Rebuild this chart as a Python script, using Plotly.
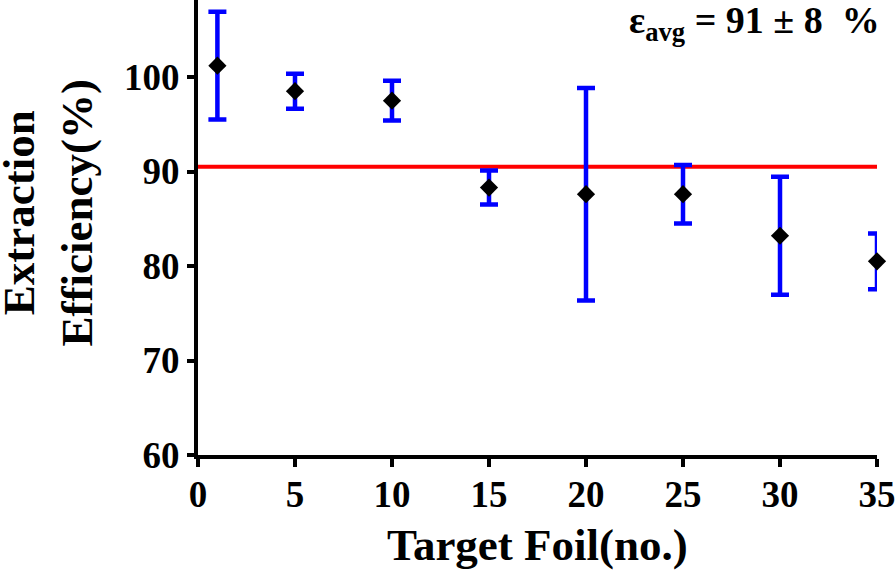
import plotly.graph_objects as go

# data
foil_no = [1, 5, 10, 15, 20, 25, 30, 35]
efficiency = [101.2, 98.5, 97.5, 88.3, 87.6, 87.6, 83.2, 80.5]
eff_error = [5.7, 1.85, 2.1, 1.8, 11.25, 3.1, 6.25, 2.95]

avg_x = [0, 35]
avg_efficiency = [90.5, 90.5]

x_ticks = [0, 5, 10, 15, 20, 25, 30, 35]
y_ticks = [60, 70, 80, 90, 100]

FONT = "Liberation Serif, Times New Roman, serif"

fig = go.Figure()

# average line (drawn first so the error bars sit on top)
fig.add_trace(go.Scatter(
    x=avg_x, y=avg_efficiency, mode="lines",
    line=dict(color="#ff0000", width=4),
    showlegend=False, hoverinfo="skip",
))

fig.add_trace(go.Scatter(
    x=foil_no, y=efficiency, mode="markers",
    marker=dict(symbol="diamond", size=14, color="black"),
    error_y=dict(type="data", array=eff_error, visible=True,
                 color="#0000ff", thickness=4.5, width=9),
    cliponaxis=False, showlegend=False,
))

axis_font = dict(family=FONT, size=37, color="black", weight="bold")
title_font = dict(family=FONT, size=45, color="black", weight="bold")

fig.update_xaxes(
    range=[0, 35], tickvals=x_ticks,
    showline=True, linecolor="black", linewidth=4,
    ticks="outside", ticklen=8, tickwidth=4, tickcolor="black",
    showgrid=False, zeroline=False, automargin=False,
    tickfont=axis_font, ticklabeloverflow="allow", ticklabelstandoff=-4,
)
fig.update_yaxes(
    range=[60, 108.15], tickvals=y_ticks,
    showline=True, linecolor="black", linewidth=4,
    ticks="outside", ticklen=7, tickwidth=4, tickcolor="black",
    showgrid=False, zeroline=False, automargin=False,
    tickfont=axis_font,
)

# axis titles placed as annotations so the margins stay fixed
fig.add_annotation(
    text="Target Foil(no.)", xref="paper", yref="paper",
    x=0.5, y=-0.198, xanchor="center", yanchor="middle",
    showarrow=False, font=title_font,
)
fig.add_annotation(
    text="Extraction<br>Efficiency(%)", xref="paper", yref="paper",
    x=-0.2202, y=0.532, xanchor="center", yanchor="middle", textangle=-90,
    showarrow=False, font=title_font,
)

fig.add_annotation(
    text="ε<sub>avg</sub> = 91 ± 8&nbsp;&nbsp;%",
    xref="paper", yref="paper", x=1.008, y=0.95,
    xanchor="right", yanchor="middle", showarrow=False,
    font=dict(family=FONT, size=38, color="black", weight="bold"),
)

fig.update_layout(
    width=895, height=571,
    margin=dict(l=198, r=18, t=0, b=116),
    paper_bgcolor="white", plot_bgcolor="white",
)

# drop the default page margin so the figure fills the window
fig.write_html("out.html", config={"displayModeBar": False},
               post_script="document.body.style.margin='0';")
